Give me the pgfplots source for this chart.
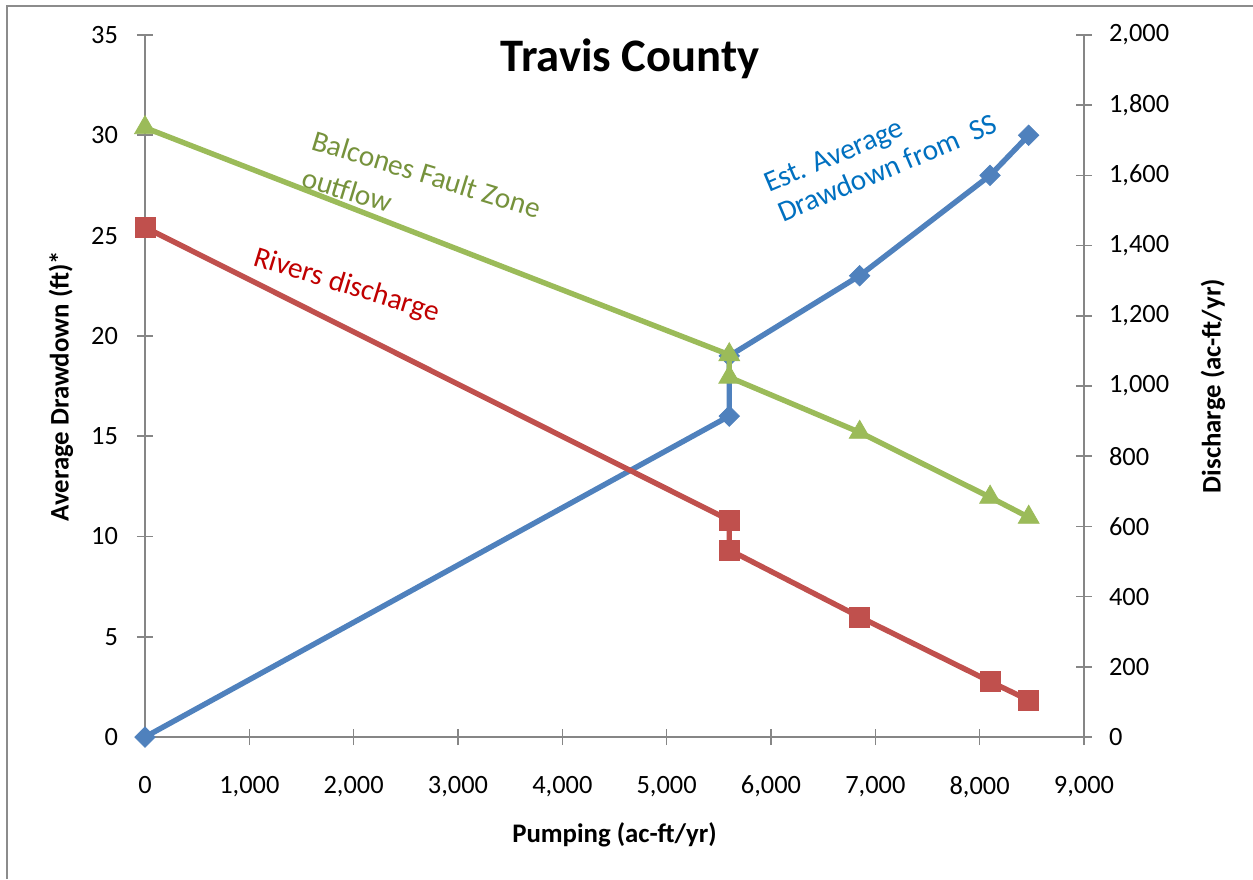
\documentclass[border=0pt]{standalone}
\usepackage{pgfplots}
\pgfplotsset{compat=1.18}
\usepackage{fontspec}
\setmainfont{Carlito}
\definecolor{axgray}{HTML}{868686}
\definecolor{sblue}{HTML}{4F81BD}
\definecolor{sred}{HTML}{C0504D}
\definecolor{sgreen}{HTML}{9BBB59}
\definecolor{tgreen}{HTML}{76923C}
\definecolor{tred}{HTML}{C00000}
\definecolor{tblue}{HTML}{0070C0}
\begin{document}
\begin{tikzpicture}
\path[use as bounding box] (0pt,0pt) rectangle (626.5pt,439.5pt);
\draw[color=black!45, line width=1pt] (3.5pt,0pt) -- (3.5pt,436.5pt) -- (626.5pt,436.5pt);
\pgfplotsset{
  common/.style={
    scale only axis, width=469.5pt, height=351pt,
    at={(72.5pt,71pt)}, anchor=south west,
    xmin=0, xmax=9000,
    axis line style={draw=axgray, line width=0.8pt},
    tick align=center, major tick length=8pt,
    every tick/.style={draw=axgray, line width=0.8pt},
    tick label style={font=\fontsize{13.2}{15}\selectfont},
    /pgf/number format/assume math mode=true,
    /pgf/number format/1000 sep={,},
    label style={font=\fontsize{13.4}{16}\selectfont\bfseries},
    clip=false,
  }
}
\begin{axis}[common,
  axis x line*=bottom, axis y line*=left,
  ymin=0, ymax=35, ytick={0,5,...,35},
  xtick={0,1000,...,9000},
  scaled x ticks=false,
  yticklabel style={xshift=-6pt},
  xticklabel style={yshift=-12pt},
  xlabel={Pumping (ac-ft/yr)},
  ylabel={Average Drawdown (ft)*},
  xlabel style={at={(axis description cs:0.5,-0.1396)}, anchor=center},
  ylabel style={at={(axis description cs:-0.0895,0.5)}, anchor=center},
]
\addplot[sblue, line width=2.7pt, mark=square*, mark size=3.6pt,
  mark options={solid, rotate=45, fill=sblue, draw=sblue, line width=0.4pt}]
  coordinates {(0,0) (5600,16) (5600,19) (6850,23) (8100,28) (8470,30)};
\node[rotate=-17, anchor=base west, inner sep=0pt, text=tgreen, font=\fontsize{14.7}{17}\selectfont] at (axis cs:1581,29.32) {Balcones Fault Zone};
\node[rotate=-17, anchor=base west, inner sep=0pt, text=tgreen, font=\fontsize{14.7}{17}\selectfont] at (axis cs:1486,27.47) {outflow};
\node[rotate=-17, anchor=base west, inner sep=0pt, text=tred, font=\fontsize{14.7}{17}\selectfont] at (axis cs:1026,23.53) {Rivers discharge};
\node[rotate=23, anchor=base west, inner sep=0pt, text=tblue, font=\fontsize{14.7}{17}\selectfont] at (axis cs:5981,27.12) {Est. Average};
\node[rotate=23, anchor=base west, inner sep=0pt, text=tblue, font=\fontsize{14.7}{17}\selectfont] at (axis cs:6115,25.63) {Drawdown from\ \ SS};
\end{axis}
\begin{axis}[common,
  axis y line*=right, axis x line=none,
  ymin=0, ymax=2000, ytick={0,200,...,2000},
  scaled y ticks=false,
  yticklabel style={xshift=5pt},
  ylabel={Discharge (ac-ft/yr)},
  ylabel style={at={(axis description cs:1.1374,0.5)}, anchor=center},
]
\addplot[sred, line width=2.7pt, mark=square*, mark size=5pt,
  mark options={solid, fill=sred, draw=sred, line width=0.4pt}]
  coordinates {(0,1452) (5600,618) (5600,533) (6850,342) (8100,158) (8470,105)};
\addplot[sgreen, line width=2.7pt, mark=triangle*, mark size=6pt,
  mark options={solid, fill=sgreen, draw=sgreen, line width=0.4pt}]
  coordinates {(0,1736) (5600,1089) (5600,1025) (6850,868) (8100,683) (8470,626)};
\end{axis}
\node[font=\fontsize{23.3}{28}\selectfont\bfseries, anchor=base, inner sep=0pt] at (315pt,403.5pt) {Travis County};
\end{tikzpicture}
\end{document}
